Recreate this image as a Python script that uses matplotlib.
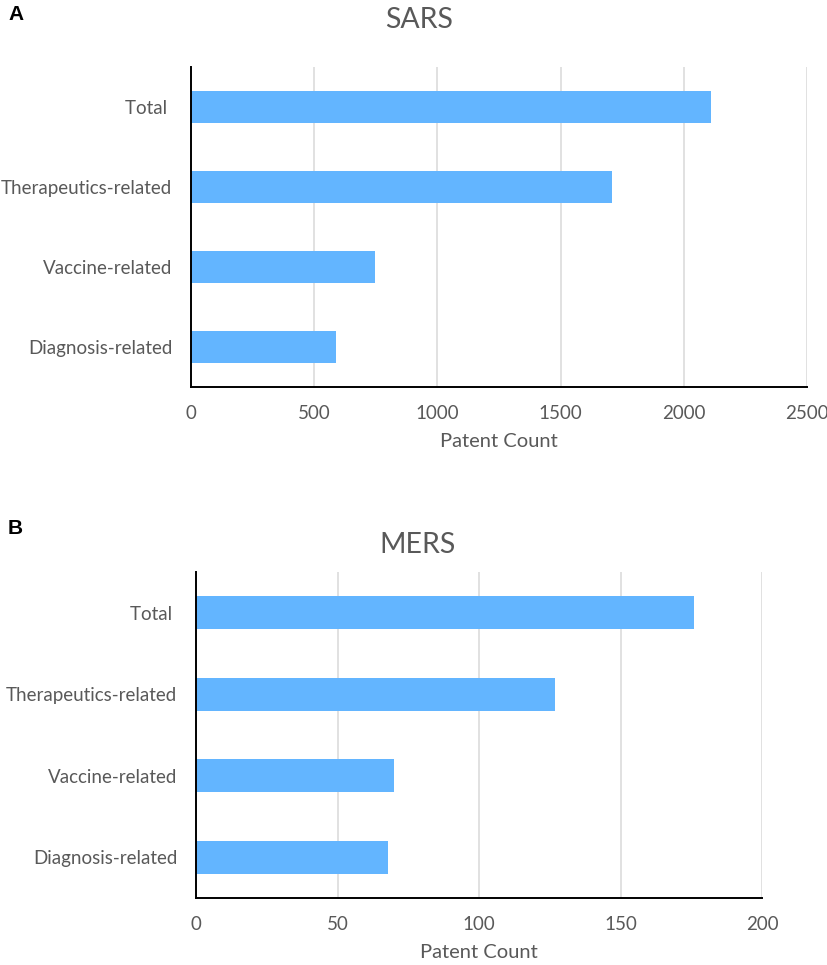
import numpy as np
import matplotlib
matplotlib.use('Agg')
import matplotlib.pyplot as plt

# data
categories = ['Total ', 'Therapeutics-related', 'Vaccine-related', 'Diagnosis-related']
sars_counts = [2110, 1707, 745, 588]
mers_counts = [176, 127, 70, 68]
sars_ticks = [0, 500, 1000, 1500, 2000, 2500]
mers_ticks = [0, 50, 100, 150, 200]

W, H = 827, 965
bar_color = '#63B5FF'
text_color = '#595959'
grid_color = '#D9D9D9'
font = 'Lato'


def px_axes(fig, left, top, right, bottom):
    # axes box given in pixel coords (origin top-left)
    return fig.add_axes([left / W, 1 - bottom / H, (right - left) / W, (bottom - top) / H])


def draw_panel(ax, counts, ticks):
    y = np.arange(len(categories))
    ax.barh(y, counts, height=0.4, color=bar_color, zorder=3)
    ax.set_ylim(len(categories) - 0.5, -0.5)
    ax.set_xlim(ticks[0], ticks[-1])
    ax.set_xticks(ticks)
    ax.set_xticklabels([str(t) for t in ticks])
    ax.set_yticks(y)
    ax.set_yticklabels(categories)
    ax.grid(axis='x', color=grid_color, linewidth=1.1, zorder=0)
    ax.tick_params(length=0, labelsize=13.5, labelcolor=text_color)
    ax.tick_params(axis='y', pad=13.5)
    ax.tick_params(axis='x', pad=13)
    for lab in ax.get_xticklabels() + ax.get_yticklabels():
        lab.set_family(font)
    for s in ['top', 'right']:
        ax.spines[s].set_visible(False)
    for s in ['left', 'bottom']:
        ax.spines[s].set_linewidth(1.4)
        ax.spines[s].set_color('black')
        ax.spines[s].set_zorder(4)
    ax.set_xlabel('Patent Count', fontsize=14.5, color=text_color, family=font, labelpad=8)


fig = plt.figure(figsize=(W / 100, H / 100), dpi=100)

ax1 = px_axes(fig, 191, 67, 807, 387)
draw_panel(ax1, sars_counts, sars_ticks)
ax2 = px_axes(fig, 196, 572, 762, 898)
draw_panel(ax2, mers_counts, mers_ticks)

fig.text(419 / W, 1 - 20 / H, 'SARS', ha='center', va='center', fontsize=20.5,
         color=text_color, family=font)
fig.text(417 / W, 1 - 545 / H, 'MERS', ha='center', va='center', fontsize=20.5,
         color=text_color, family=font)
fig.text(8 / W, 1 - 14 / H, 'A', ha='left', va='center', fontsize=15,
         fontweight='bold', family='Liberation Sans')
fig.text(8 / W, 1 - 528 / H, 'B', ha='left', va='center', fontsize=15,
         fontweight='bold', family='Liberation Sans')

fig.savefig('out.png', dpi=100)
